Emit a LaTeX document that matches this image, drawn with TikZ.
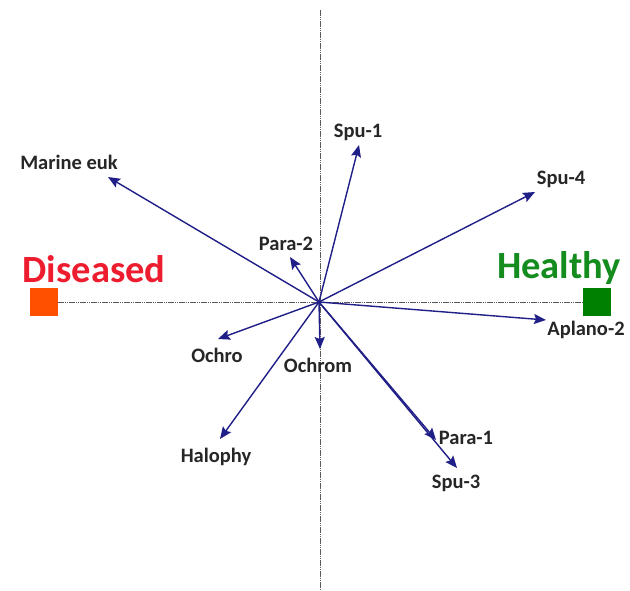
\documentclass[tikz,border=0pt]{standalone}
\usepackage{fontspec}
\setmainfont{Carlito}
\usetikzlibrary{arrows.meta}
\definecolor{arrowblue}{RGB}{32,30,135}
\definecolor{disred}{RGB}{237,28,46}
\definecolor{disorange}{RGB}{255,80,0}
\definecolor{healgreen}{RGB}{20,140,30}
\definecolor{sqgreen}{RGB}{0,128,0}
\begin{document}
\begin{tikzpicture}[x=1pt,y=-1pt,
  vec/.style={draw=arrowblue,line width=1.4pt,-{Stealth[length=12pt,width=10pt,inset=2pt]}},
  lab/.style={font=\bfseries\fontsize{20.5}{24}\selectfont,text=black!85,inner sep=0pt},
  axisline/.style={draw=black!65,line width=0.8pt,dash pattern=on 1.5pt off 0.7pt},
  big/.style={font=\bfseries\fontsize{38.5}{44}\selectfont,inner sep=0pt}]
\useasboundingbox (0,0) rectangle (630,590);
\fill[white] (0,0) rectangle (630,590);
% axes
\coordinate (O) at (319,302);
\coordinate (vtop) at (320,10);
\coordinate (vbot) at (320,590);
\coordinate (hl) at (58,302);
\coordinate (hr) at (583,302);
\draw[axisline] (vtop) -- (vbot);
\draw[axisline] (hl) -- (hr);
% squares
\node[fill=disorange,minimum size=28pt,inner sep=0pt] (dsq) at (44,302) {};
\node[fill=sqgreen,minimum size=28pt,inner sep=0pt] (hsq) at (597,302) {};
\node[big,text=disred] (dis) at (94,269) {Diseased};
\node[big,text=healgreen] (heal) at (559,268) {Healthy};
% arrow tips
\coordinate (tme) at (108,177);
\coordinate (ts1) at (359,145);
\coordinate (ts4) at (535,192);
\coordinate (tp2) at (290,257);
\coordinate (tap) at (546,320);
\coordinate (toc) at (218,339);
\coordinate (tom) at (320,349);
\coordinate (tha) at (220,439);
\coordinate (tp1) at (436,440);
\coordinate (ts3) at (457,468);
\foreach \t in {tme,ts1,ts4,tp2,tap,toc,tom,tha,tp1,ts3} \draw[vec] (O) -- (\t);
% labels
\node[lab] (lme) at (69,162) {Marine euk};
\node[lab] (ls1) at (358,132) {Spu-1};
\node[lab] (ls4) at (561,179) {Spu-4};
\node[lab] (lp2) at (286,244) {Para-2};
\node[lab] (lap) at (586,330) {Aplano-2};
\node[lab] (loc) at (217,355) {Ochro};
\node[lab] (lom) at (318,365) {Ochrom};
\node[lab] (lha) at (216,457) {Halophy};
\node[lab] (lp1) at (466,438) {Para-1};
\node[lab] (ls3) at (456,483) {Spu-3};
\end{tikzpicture}
\end{document}
